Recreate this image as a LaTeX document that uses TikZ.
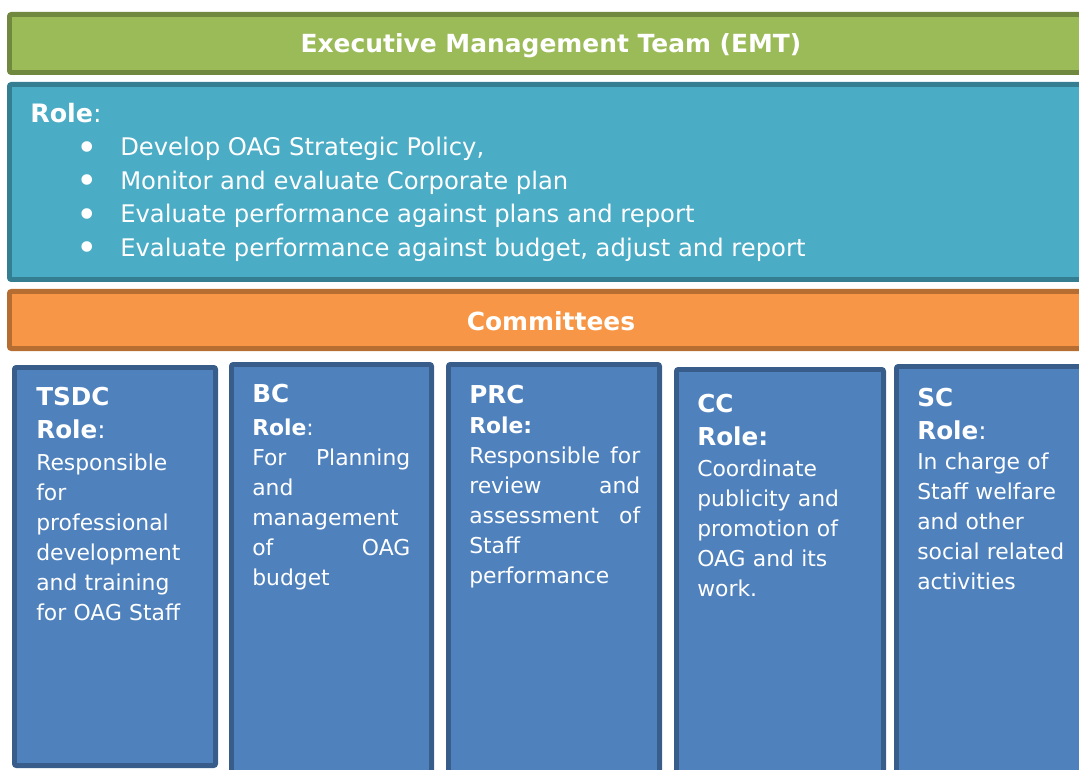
\documentclass[tikz,border=0pt]{standalone}
\usepackage{fontspec}
\setmainfont{DejaVu Sans}
\definecolor{emtgreen}{HTML}{9BBB59}
\definecolor{emtgreenline}{HTML}{71893F}
\definecolor{roleteal}{HTML}{4BACC6}
\definecolor{rolealine}{HTML}{357D91}
\definecolor{comorange}{HTML}{F79646}
\definecolor{comorangeline}{HTML}{B66D31}
\definecolor{comblue}{HTML}{4F81BD}
\definecolor{combline}{HTML}{385D8A}
\newcommand\bighead[1]{{\fontsize{18.5}{24}\selectfont\bfseries #1}}
\newcommand\bigcolon{{\fontsize{18.5}{24}\selectfont :}}
\newcommand\bigdot{\raisebox{-3.3pt}{\scalebox{1.5}{\textbullet}}}
\tikzset{
  bar/.style={line width=3.6pt,rounded corners=1.5pt},
  bartitle/.style={text=white,font=\fontsize{18.7}{24}\selectfont\bfseries},
  comtext/.style={text=white,anchor=north west,inner sep=0pt,align=left,
                  font=\fontsize{16.4}{22.5}\selectfont},
}
\begin{document}
\begin{tikzpicture}[x=.75pt,y=-.75pt]
  \clip (0,0) rectangle (1079,770);
  % the three bars across the top
  \draw[bar,draw=emtgreenline,fill=emtgreen] (9.4,14.4) rectangle (1095,72.6);
  \draw[bar,draw=rolealine,fill=roleteal] (9.4,84.4) rectangle (1095,279.6);
  \draw[bar,draw=comorangeline,fill=comorange] (9.4,291.4) rectangle (1095,348.6);
  \node[bartitle] (emt) at (551,46) {Executive Management Team (EMT)};
  \node[bartitle] (committees) at (551,321) {Committees};
  \node[text=white,anchor=base west,inner sep=0pt,font=\fontsize{19}{24}\selectfont]
    (emtrole) at (30,123) {\textbf{Role}:};
  \node[text=white,anchor=base west,inner sep=0pt,font=\fontsize{18.2}{25.1}\selectfont]
    (emtlist) at (76,156) {\begin{tabular}[t]{@{}p{33pt}@{}l@{}}
      \bigdot & Develop OAG Strategic Policy,\\
      \bigdot & Monitor and evaluate Corporate plan\\
      \bigdot & Evaluate performance against plans and report\\
      \bigdot & Evaluate performance against budget, adjust and report
    \end{tabular}};
  % committee boxes
  \draw[bar,draw=combline,fill=comblue] (14.4,367.4) rectangle (215.6,765.6);
  \draw[bar,draw=combline,fill=comblue] (231.4,364.4) rectangle (431.6,790);
  \draw[bar,draw=combline,fill=comblue] (448.4,364.4) rectangle (659.6,790);
  \draw[bar,draw=combline,fill=comblue] (676.4,369.4) rectangle (883.6,790);
  \draw[bar,draw=combline,fill=comblue] (896.4,366.4) rectangle (1095,790);
  \node[comtext,text width=140pt] (tsdc) at (36,387)
    {\bighead{TSDC}\\[2pt]\bighead{Role}\bigcolon\\[1.5pt]
     Responsible\\for\\professional\\development\\and training\\for OAG Staff};
  \node[comtext,text width=118.5pt] (bc) at (252,384)
    {\bighead{BC}\\[2pt]\textbf{Role}:\\
     For\hfill Planning\\and\\management\\of\hfill OAG\\budget};
  \node[comtext,text width=128.25pt] (prc) at (469,385)
    {\bighead{PRC}\\\textbf{Role:}\\
     Responsible\hfill for\\review\hfill and\\assessment\hfill of\\Staff\\performance};
  \node[comtext,text width=140pt] (cc) at (697,394)
    {\bighead{CC}\\[2pt]\bighead{Role:}\\[1pt]
     Coordinate\\publicity and\\promotion of\\OAG and its\\work.};
  \node[comtext,text width=130pt] (sc) at (917,388)
    {\bighead{SC}\\[2pt]\bighead{Role}\bigcolon\\[.5pt]
     In charge of\\Staff welfare\\and other\\social related\\activities};
\end{tikzpicture}
\end{document}
